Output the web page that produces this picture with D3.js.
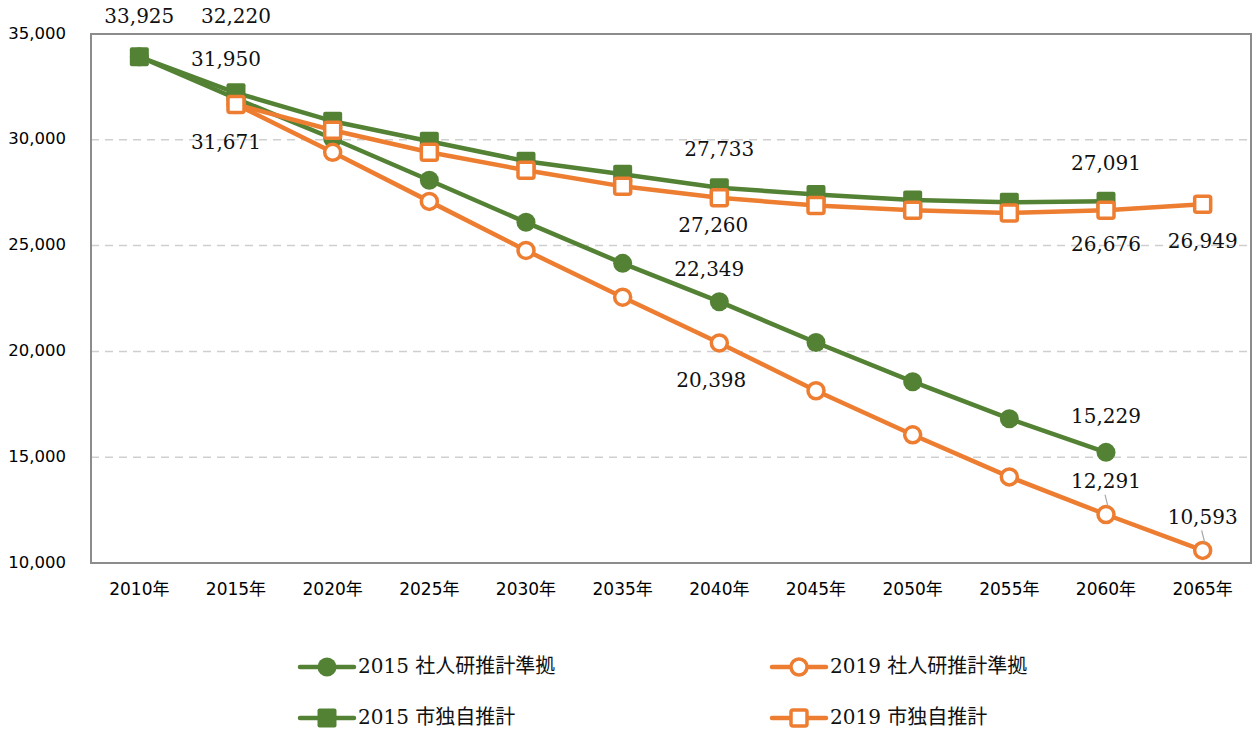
<!DOCTYPE html>
<html>
<head>
<meta charset="utf-8">
<script src="https://cdn.jsdelivr.net/npm/d3@7"></script>
<style>
  body { margin: 0; background: #fff; }
  .tick-label { font-family: "DejaVu Sans", "Noto Sans CJK JP", sans-serif; font-size: 16.5px; fill: #000; }
  .x-label { font-size: 17px; }
  .val-label { font-family: "DejaVu Serif", "Liberation Serif", serif; font-size: 20px; fill: #111; }
  .legend-label { font-family: "DejaVu Serif", "Noto Sans CJK JP", serif; font-size: 20px; fill: #111; }
</style>
</head>
<body>
<svg id="chart" width="1255" height="735"></svg>
<script>
// years on the x axis
var years = ["2010", "2015", "2020", "2025", "2030", "2035", "2040", "2045", "2050", "2055", "2060", "2065"];
var yTicks = [10000, 15000, 20000, 25000, 30000, 35000];

// series values
var ipss2015 = [33925, 31950, 30060, 28090, 26100, 24160, 22349, 20420, 18570, 16820, 15229, null];
var ipss2019 = [null, 31671, 29410, 27090, 24770, 22560, 20398, 18140, 16060, 14070, 12291, 10593];
var city2015 = [33925, 32220, 30880, 29930, 28990, 28370, 27733, 27420, 27160, 27050, 27091, null];
var city2019 = [null, 31671, 30450, 29410, 28560, 27800, 27260, 26900, 26670, 26540, 26676, 26949];

var seriesNames = ["2015 社人研推計準拠", "2019 社人研推計準拠", "2015 市独自推計", "2019 市独自推計"];

var green = "#548235", orange = "#ED7D31";

var series = [
  { name: seriesNames[0], values: ipss2015, color: green, shape: "circle", filled: true },
  { name: seriesNames[1], values: ipss2019, color: orange, shape: "circle", filled: false },
  { name: seriesNames[2], values: city2015, color: green, shape: "square", filled: true },
  { name: seriesNames[3], values: city2019, color: orange, shape: "square", filled: false }
];

// which points get a value label, and where the label sits relative to the point
var labels = [
  { s: 2, i: 0, dx: 0, dy: -39 },
  { s: 2, i: 1, dx: 0, dy: -75 },
  { s: 0, i: 1, dx: -10, dy: -38 },
  { s: 3, i: 1, dx: -10, dy: 39 },
  { s: 2, i: 6, dx: 0, dy: -37 },
  { s: 3, i: 6, dx: -6, dy: 29 },
  { s: 0, i: 6, dx: -10, dy: -31 },
  { s: 1, i: 6, dx: -8, dy: 39 },
  { s: 0, i: 10, dx: 0, dy: -35 },
  { s: 1, i: 10, dx: 0, dy: -32, leader: true },
  { s: 1, i: 11, dx: 0, dy: -32, leader: true },
  { s: 2, i: 10, dx: 0, dy: -37 },
  { s: 3, i: 10, dx: 0, dy: 35 },
  { s: 3, i: 11, dx: 0, dy: 38 }
];

var svg = d3.select("#chart");
var plotL = 91, plotR = 1251, plotT = 34, plotB = 563;

var x = d3.scalePoint().domain(years).range([plotL, plotR]).padding(0.5);
var y = d3.scaleLinear().domain([10000, 35000]).range([plotB, plotT]);

// gridlines
svg.append("g")
  .selectAll("line")
  .data(yTicks.filter(function (d) { return d > 10000 && d < 35000; }))
  .join("line")
  .attr("x1", plotL).attr("x2", plotR)
  .attr("y1", function (d) { return y(d); })
  .attr("y2", function (d) { return y(d); })
  .attr("stroke", "#cfcfcf")
  .attr("stroke-width", 1.5)
  .attr("stroke-dasharray", "8,6");

// plot border
svg.append("rect")
  .attr("x", plotL).attr("y", plotT)
  .attr("width", plotR - plotL).attr("height", plotB - plotT)
  .attr("fill", "none")
  .attr("stroke", "#8c8c8c")
  .attr("stroke-width", 2);

// y tick labels
var fmt = d3.format(",");
svg.append("g")
  .selectAll("text")
  .data(yTicks)
  .join("text")
  .attr("class", "tick-label")
  .attr("x", 66)
  .attr("y", function (d) { return y(d); })
  .attr("text-anchor", "end")
  .attr("dominant-baseline", "middle")
  .text(function (d) { return fmt(d); });

// x tick labels
svg.append("g")
  .selectAll("text")
  .data(years)
  .join("text")
  .attr("class", "tick-label x-label")
  .attr("x", function (d) { return x(d); })
  .attr("y", 590)
  .attr("text-anchor", "middle")
  .attr("dominant-baseline", "middle")
  .text(function (d) { return d + "年"; });

var line = d3.line()
  .defined(function (d) { return d != null; })
  .x(function (d, i) { return x(years[i]); })
  .y(function (d) { return y(d); });

function drawMarker(g, shape, filled, color, cx, cy) {
  if (shape === "circle") {
    g.append("circle")
      .attr("cx", cx).attr("cy", cy)
      .attr("r", filled ? 9.5 : 8)
      .attr("fill", filled ? color : "#fff")
      .attr("stroke", color)
      .attr("stroke-width", filled ? 0 : 3.5);
  } else {
    var s = filled ? 19 : 16;
    g.append("rect")
      .attr("x", cx - s / 2).attr("y", cy - s / 2)
      .attr("width", s).attr("height", s)
      .attr("rx", 2)
      .attr("fill", filled ? color : "#fff")
      .attr("stroke", color)
      .attr("stroke-width", filled ? 0 : 3.5);
  }
}

// series lines and markers
series.forEach(function (s) {
  var g = svg.append("g");
  g.append("path")
    .attr("d", line(s.values))
    .attr("fill", "none")
    .attr("stroke", s.color)
    .attr("stroke-width", 4.5)
    .attr("stroke-linejoin", "round");
  s.values.forEach(function (v, i) {
    if (v == null) return;
    drawMarker(g, s.shape, s.filled, s.color, x(years[i]), y(v));
  });
});

// value labels
var lg = svg.append("g");
labels.forEach(function (l) {
  var v = series[l.s].values[l.i];
  var px = x(years[l.i]), py = y(v);
  if (l.leader) {
    lg.append("line")
      .attr("x1", px + 2).attr("y1", py - 8)
      .attr("x2", px - 1).attr("y2", py - 20)
      .attr("stroke", "#a6a6a6").attr("stroke-width", 1.2);
  }
  lg.append("text")
    .attr("class", "val-label")
    .attr("x", px + l.dx)
    .attr("y", py + l.dy)
    .attr("text-anchor", "middle")
    .attr("dominant-baseline", "middle")
    .text(fmt(v));
});

// legend
var legendPos = [
  { x: 300, y: 667 },
  { x: 772, y: 667 },
  { x: 300, y: 718 },
  { x: 772, y: 718 }
];
series.forEach(function (s, i) {
  var p = legendPos[i];
  var g = svg.append("g");
  g.append("line")
    .attr("x1", p.x).attr("x2", p.x + 54)
    .attr("y1", p.y).attr("y2", p.y)
    .attr("stroke", s.color).attr("stroke-width", 4.5)
    .attr("stroke-linecap", "round");
  drawMarker(g, s.shape, s.filled, s.color, p.x + 27, p.y);
  g.append("text")
    .attr("class", "legend-label")
    .attr("x", p.x + 58)
    .attr("y", p.y)
    .attr("dominant-baseline", "middle")
    .text(s.name);
});
</script>
</body>
</html>
